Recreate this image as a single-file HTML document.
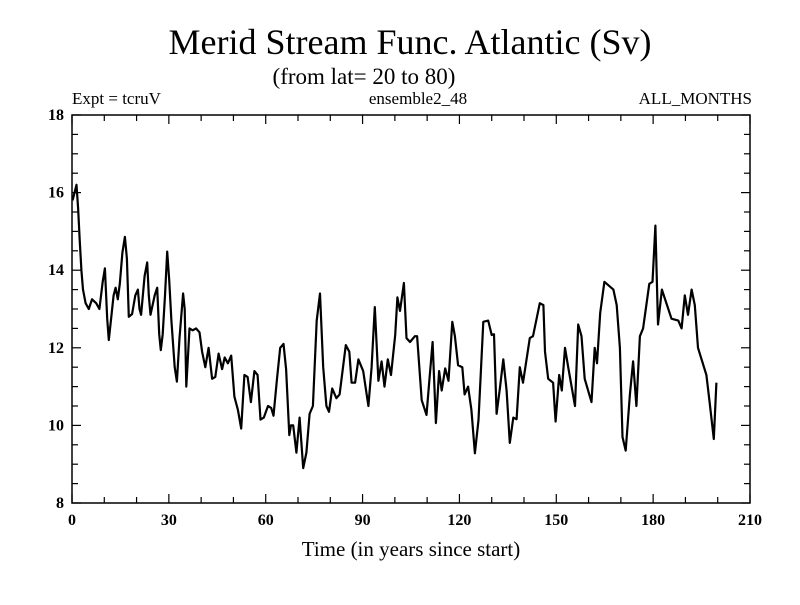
<!DOCTYPE html>
<html><head><meta charset="utf-8"><style>
body{margin:0;background:#fff;}
svg text{font-family:"Liberation Serif",serif;fill:#000;}
</style></head><body>
<svg id="chart" width="800" height="600" xmlns="http://www.w3.org/2000/svg">
<text x="410" y="54" font-size="36" text-anchor="middle">Merid Stream Func. Atlantic (Sv)</text>
<text x="364" y="84" font-size="23" text-anchor="middle">(from lat= 20 to 80)</text>
<text x="72" y="104" font-size="17">Expt = tcruV</text>
<text x="418" y="104" font-size="17" text-anchor="middle">ensemble2_48</text>
<text x="752" y="104" font-size="17" text-anchor="end">ALL_MONTHS</text>
<text x="411" y="556" font-size="21" text-anchor="middle">Time (in years since start)</text>
<g id="axes"></g>
<path id="line" fill="none" stroke="#000" stroke-width="2.2" stroke-linejoin="round"/>
</svg>
<script>
const years=[0.2,1.4,1.9,2.4,2.9,3.4,4.2,5.2,6.2,7.5,8.5,9.5,10.2,10.9,11.4,12.1,12.9,13.5,14.2,14.8,15.6,16.4,17.0,17.6,18.6,19.6,20.4,20.9,21.4,22.5,23.3,23.8,24.3,25.6,26.4,27.0,27.5,28.1,28.8,29.5,30.1,30.8,31.8,32.5,33.3,34.4,34.9,35.4,36.4,37.4,38.4,39.5,40.3,41.3,42.3,43.4,44.4,45.4,46.5,47.3,48.3,49.3,50.3,51.4,52.4,53.4,54.4,55.4,56.5,57.5,58.4,59.4,60.7,61.7,62.4,63.5,64.5,65.5,66.3,67.3,67.8,68.5,69.5,70.5,71.6,72.6,73.6,74.6,75.8,76.8,77.8,78.8,79.6,80.6,81.9,82.9,84.8,85.9,86.6,87.7,88.7,90.2,91.8,92.8,93.8,94.9,95.9,96.8,97.8,98.8,100.1,100.8,101.6,102.8,103.6,104.7,106.2,106.9,108.3,109.8,110.6,111.7,112.7,113.7,114.5,115.6,116.6,117.8,118.6,119.6,120.9,121.6,122.7,123.7,124.8,125.9,127.4,128.9,130.0,130.7,131.5,132.6,133.6,134.6,135.6,136.7,137.7,138.7,139.7,141.8,142.8,144.9,146.0,146.5,147.5,149.0,149.8,150.9,151.7,152.7,153.7,155.8,156.8,157.8,158.8,160.9,161.9,162.6,163.6,164.9,167.7,168.7,169.7,170.5,171.5,172.8,173.8,174.8,175.9,176.9,178.8,179.8,180.7,181.5,182.7,185.7,187.8,188.8,189.8,190.8,191.9,192.9,193.9,196.5,197.5,198.8,199.6];
const values=[15.8,16.2,15.6,14.78,14.0,13.5,13.15,13.0,13.25,13.15,13.0,13.7,14.05,12.75,12.2,12.75,13.35,13.55,13.25,13.65,14.45,14.86,14.3,12.8,12.87,13.35,13.5,13.0,12.85,13.85,14.2,13.35,12.85,13.35,13.55,12.35,11.94,12.35,13.35,14.48,13.75,12.7,11.5,11.13,12.25,13.4,13.0,11.0,12.5,12.45,12.5,12.4,11.9,11.5,12.0,11.2,11.25,11.85,11.45,11.75,11.6,11.8,10.74,10.4,9.92,11.3,11.25,10.6,11.4,11.3,10.15,10.2,10.5,10.45,10.25,11.2,12.0,12.1,11.45,9.75,10.0,10.0,9.3,10.2,8.9,9.3,10.3,10.5,12.7,13.4,11.5,10.5,10.35,10.95,10.7,10.8,12.07,11.9,11.1,11.1,11.7,11.4,10.5,11.5,13.05,11.15,11.65,11.0,11.7,11.3,12.33,13.3,12.95,13.67,12.25,12.15,12.3,12.3,10.65,10.27,11.08,12.15,10.06,11.4,10.9,11.47,11.15,12.67,12.3,11.55,11.5,10.8,11.0,10.4,9.28,10.14,12.67,12.7,12.33,12.35,10.3,11.0,11.7,10.9,9.55,10.2,10.16,11.5,11.1,12.25,12.3,13.15,13.1,11.9,11.2,11.1,10.1,11.3,10.9,12.0,11.5,10.5,12.6,12.3,11.2,10.6,12.0,11.6,12.9,13.7,13.5,13.1,12.0,9.7,9.35,10.8,11.65,10.5,12.3,12.5,13.65,13.7,15.15,12.6,13.5,12.75,12.7,12.5,13.35,12.85,13.5,13.1,12.0,11.3,10.6,9.65,11.1];
const xTicks=[0,30,60,90,120,150,180,210];
const yTicks=[8,10,12,14,16,18];
const X0=72,X1=750,Y0=503,Y1=115,xMin=0,xMax=210,yMin=8,yMax=18;
const sx=v=>X0+(v-xMin)/(xMax-xMin)*(X1-X0);
const sy=v=>Y0-(v-yMin)/(yMax-yMin)*(Y0-Y1);
const NS="http://www.w3.org/2000/svg";
const g=document.getElementById('axes');
function mk(tag,attrs){const e=document.createElementNS(NS,tag);for(const k in attrs)e.setAttribute(k,attrs[k]);g.appendChild(e);return e;}
const frame=mk('rect',{x:X0,y:Y1,width:X1-X0,height:Y0-Y1,fill:'none',stroke:'#000','stroke-width':1.5});


for(let v=xMin;v<=xMax;v+=10){
  const maj=v%30===0,len=maj?9:6,x=sx(v);
  const t1=mk('line',{x1:x,x2:x,y1:Y0,y2:Y0-len,stroke:'#000','stroke-width':1.2});
  
  
  const t2=mk('line',{x1:x,x2:x,y1:Y1,y2:Y1+len,stroke:'#000','stroke-width':1.2});
  
  
}
for(let v=yMin;v<=yMax;v+=0.5){
  const maj=Math.abs(v%2)<1e-9,len=maj?9:6,y=sy(v);
  const t1=mk('line',{x1:X0,x2:X0+len,y1:y,y2:y,stroke:'#000','stroke-width':1.2});
  
  
  const t2=mk('line',{x1:X1,x2:X1-len,y1:y,y2:y,stroke:'#000','stroke-width':1.2});
  
  
}
xTicks.forEach(v=>{
  const t=mk('text',{x:sx(v),y:Y0+22,'font-size':16,'font-weight':'bold','text-anchor':'middle'});
  t.textContent=v;
  
  
});
yTicks.forEach(v=>{
  const t=mk('text',{x:X0-8,y:sy(v)+5,'font-size':16,'font-weight':'bold','text-anchor':'end'});
  t.textContent=v;
  
  
});
document.getElementById('line').setAttribute('d',years.map((yr,i)=>(i?'L':'M')+sx(yr).toFixed(1)+' '+sy(values[i]).toFixed(1)).join(' '));
</script>
</body></html>
